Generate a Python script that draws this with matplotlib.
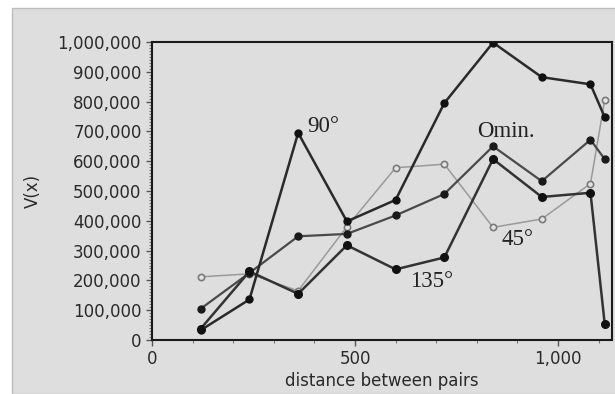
import numpy as np
import matplotlib.pyplot as plt
from matplotlib.patches import Rectangle
from matplotlib.ticker import FuncFormatter, MultipleLocator

# distance between pairs (lag centres)
dist = [120, 240, 360, 480, 600, 720, 840, 960, 1080, 1115]

v_90 = [33000, 136000, 695000, 398000, 470000, 795000, 998000, 882000, 858000, 748000]
v_omni = [105000, 225000, 348000, 356000, 418000, 490000, 650000, 533000, 672000, 607000]
v_135 = [38000, 230000, 155000, 318000, 237000, 277000, 607000, 480000, 494000, 55000]
v_45 = [212000, 222000, 165000, 380000, 578000, 590000, 378000, 406000, 525000, 805000]

bg = '#dedede'

fig = plt.figure(figsize=(6.15, 3.94), dpi=100, facecolor='white')
# gray panel behind the chart
fig.patches.append(Rectangle((12 / 615, 0), 1, (394 - 8) / 394, transform=fig.transFigure,
                             facecolor=bg, edgecolor='#bdbdbd', lw=1.0, zorder=-1))

ax = fig.add_axes([152 / 615, 1 - 340 / 394, (612 - 152) / 615, (340 - 42) / 394])
ax.set_facecolor(bg)

ax.plot(dist, v_45, color='#9a9a9a', lw=1.1, marker='o', ms=4.5,
        mfc='#e4e4e4', mec='#7a7a7a', mew=1.2, zorder=2)
ax.plot(dist, v_omni, color='#4a4a4a', lw=1.6, marker='o', ms=5,
        mfc='#1a1a1a', mec='#1a1a1a', zorder=3)
ax.plot(dist, v_135, color='#333333', lw=1.8, marker='o', ms=5.5,
        mfc='#111111', mec='#111111', zorder=4)
ax.plot(dist, v_90, color='#2a2a2a', lw=1.8, marker='o', ms=5,
        mfc='#111111', mec='#111111', zorder=5)

serif = dict(family='Liberation Serif', fontsize=16.5, color='#222222')
ax.text(382, 715000, '90°', ha='left', va='center', **serif)
ax.text(800, 699000, 'Omin.', ha='left', va='center', **serif)
ax.text(862, 336000, '45°', ha='left', va='center', **serif)
ax.text(635, 195000, '135°', ha='left', va='center', **serif)

ax.set_xlim(0, 1133)
ax.set_ylim(0, 1000000)
ax.set_xticks([0, 500, 1000])
ax.xaxis.set_minor_locator(MultipleLocator(100))
ax.yaxis.set_major_locator(MultipleLocator(100000))
ax.yaxis.set_minor_locator(MultipleLocator(10000))
fmt = FuncFormatter(lambda v, p: '{:,.0f}'.format(v))
ax.xaxis.set_major_formatter(fmt)
ax.yaxis.set_major_formatter(fmt)

ax.tick_params(axis='both', which='major', labelsize=12, labelcolor='#2a2a2a',
               color='#555555', length=4, width=1, direction='out')
ax.tick_params(axis='both', which='minor', color='#777777', length=2.5, width=0.8,
               direction='out')
ax.tick_params(axis='x', which='both', pad=3)

for s in ax.spines.values():
    s.set_color('#1a1a1a')
    s.set_linewidth(1.5)

ax.set_xlabel('distance between pairs', fontsize=12, color='#2a2a2a', labelpad=3)
ax.set_ylabel('V(x)', fontsize=12, color='#2a2a2a', labelpad=11)

fig.savefig('out.png', dpi=100, facecolor=fig.get_facecolor())
